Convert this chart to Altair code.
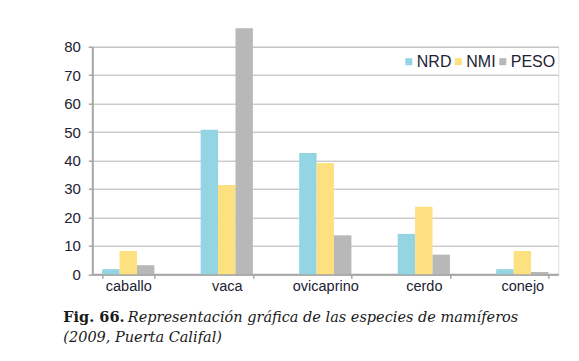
import altair as alt
import pandas as pd

categories = ["caballo", "vaca", "ovicaprino", "cerdo", "conejo"]
series = ["NRD", "NMI", "PESO"]
nrd = [1.8, 50.8, 42.6, 14.2, 1.8]
nmi = [8.2, 31.4, 39.1, 23.7, 8.2]
peso = [3.2, 86.5, 13.7, 6.9, 0.8]
colors = ["#93d5e2", "#fde07f", "#b8b8b8"]
y_ticks = [0, 10, 20, 30, 40, 50, 60, 70, 80]
caption_bold = "Fig. 66."
caption_italic_1 = "Representación gráfica de las especies de mamíferos"
caption_italic_2 = "(2009, Puerta Califal)"

rows = []
for i, c in enumerate(categories):
    for s, vals in zip(series, [nrd, nmi, peso]):
        rows.append({"cat": c, "serie": s, "valor": vals[i]})
df = pd.DataFrame(rows)

label_color = "#222233"
axis_gray = "#a6a6a6"

bars = alt.Chart(df).mark_bar().encode(
    x=alt.X("cat:N", sort=categories,
            scale=alt.Scale(paddingInner=0.47, paddingOuter=0.1),
            axis=alt.Axis(title=None, labelAngle=0, labelFont="Liberation Sans",
                          labelFontSize=14.5, labelColor=label_color, labelPadding=1,
                          tickSize=4, tickColor=axis_gray, tickWidth=1.5,
                          tickBand="extent", domainColor=axis_gray, domainWidth=2)),
    xOffset=alt.XOffset("serie:N", sort=series, scale=alt.Scale(paddingInner=0, paddingOuter=0)),
    y=alt.Y("valor:Q", scale=alt.Scale(domain=[0, 80], nice=False),
            axis=alt.Axis(title=None, values=y_ticks, labelFont="Liberation Sans",
                          labelFontSize=15, labelColor=label_color, labelPadding=8,
                          tickSize=4, tickColor=axis_gray, tickWidth=1.5,
                          domainColor=axis_gray, domainWidth=2,
                          grid=True, gridColor="#b4b4b4", gridWidth=1)),
    color=alt.Color("serie:N", sort=series,
                    scale=alt.Scale(domain=series, range=colors),
                    legend=alt.Legend(title=None, orient="none", direction="horizontal",
                                      legendX=308.5, legendY=7, symbolType="square",
                                      symbolSize=49, symbolStrokeWidth=0,
                                      gridAlign="none",
                                      labelFont="Liberation Sans",
                                      labelFontSize=16, labelColor=label_color,
                                      labelOffset=0, columnPadding=-1.5, padding=0)),
)

cap_df = pd.DataFrame({"b": [caption_bold], "i1": [caption_italic_1], "i2": [caption_italic_2]})
cap_font = "DejaVu Serif"
cap_size = 14.5
cap_bold = alt.Chart(cap_df).mark_text(
    font=cap_font, fontSize=cap_size, fontWeight="bold", align="left",
    baseline="alphabetic", color="#1a1a1a"
).encode(text="b:N", x=alt.value(-29), y=alt.value(275.5))
cap_it1 = alt.Chart(cap_df).mark_text(
    font=cap_font, fontSize=cap_size, fontStyle="italic", align="left",
    baseline="alphabetic", color="#1a1a1a"
).encode(text="i1:N", x=alt.value(35.5), y=alt.value(275.5))
cap_it2 = alt.Chart(cap_df).mark_text(
    font=cap_font, fontSize=cap_size, fontStyle="italic", align="left",
    baseline="alphabetic", color="#1a1a1a"
).encode(text="i2:N", x=alt.value(-29), y=alt.value(295))

chart = alt.layer(bars, cap_bold, cap_it1, cap_it2).properties(
    width=466, height=227.6,
    autosize=alt.AutoSizeParams(type="none"),
    padding={"left": 84.3, "top": 38.7, "right": 10, "bottom": 70},
).configure_view(stroke=None).configure(background="white")

chart.save("out.html", embed_options={"renderer": "svg", "actions": False})
